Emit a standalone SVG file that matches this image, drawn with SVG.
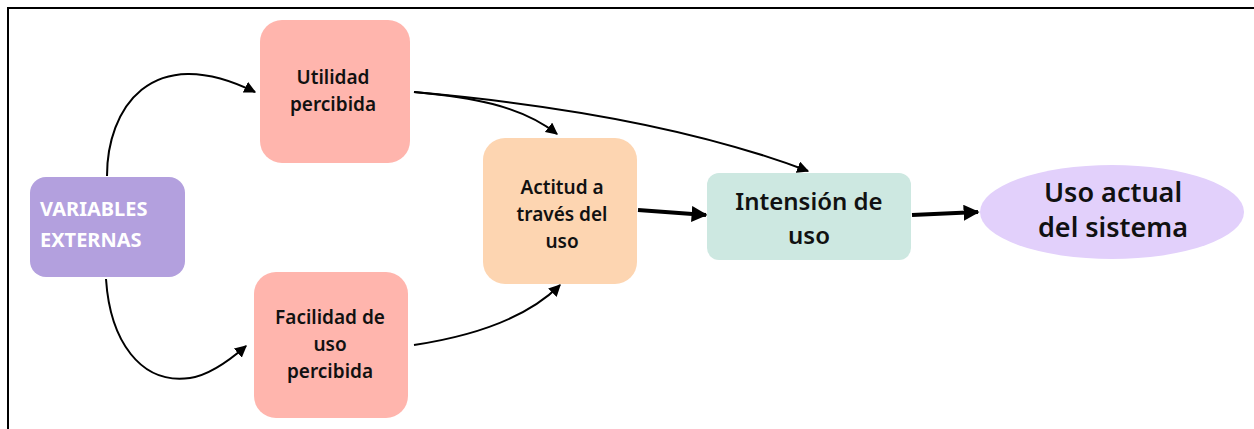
<svg xmlns="http://www.w3.org/2000/svg" width="1254" height="429" viewBox="0 0 1254 429">
<defs>
<marker id="ah" viewBox="0 0 10 10" refX="9" refY="5" markerWidth="6" markerHeight="6" orient="auto" markerUnits="strokeWidth">
<path d="M0,0 L10,5 L0,10 z" fill="#000"/>
</marker>
<marker id="ahb" viewBox="0 0 10 10" refX="9" refY="5" markerWidth="4" markerHeight="4" orient="auto" markerUnits="strokeWidth">
<path d="M0,0 L10,5 L0,10 z" fill="#000"/>
</marker>
</defs>
<style>
.t{font-family:"Noto Sans","Liberation Sans",sans-serif;fill:#111;text-anchor:middle;font-weight:600}
.s{font-size:19px}
.m{font-size:24px}
.l{font-size:27px}
.w{font-family:"Noto Sans","Liberation Sans",sans-serif;fill:#fff;font-weight:bold;font-size:20px}
.c{fill:none;stroke:#000;stroke-width:2}
.cb{fill:none;stroke:#000;stroke-width:4}
</style>
<rect width="1254" height="429" fill="#fff"/>
<path d="M8,429 L8,8 L1254,8" fill="none" stroke="#000" stroke-width="2"/>
<g id="connectors">
<path class="c" d="M107,176 C107,110 150,40 255,92" marker-end="url(#ah)"/>
<path class="c" d="M106,279 C110,340 140,385 190,378 C210,375 230,360 246,346" marker-end="url(#ah)"/>
<path class="c" d="M414,92 C470,97 520,105 557,134" marker-end="url(#ah)"/>
<path class="c" d="M414,92 C560,105 700,130 808,171" marker-end="url(#ah)"/>
<path class="c" d="M414,345 C480,335 530,315 560,285" marker-end="url(#ah)"/>
<path class="cb" d="M638,210 L706,215" marker-end="url(#ahb)"/>
<path class="cb" d="M912,215 L978,212" marker-end="url(#ahb)"/>
</g>
<g id="n-variables">
<rect x="30" y="177" width="155" height="100" rx="16" fill="#B3A0DE"/>
<text class="w" x="40" y="216">VARIABLES</text>
<text class="w" x="40" y="247">EXTERNAS</text>
</g>
<g id="n-utilidad">
<rect x="260" y="20" width="150" height="143" rx="22" fill="#FFB5AD"/>
<text class="t s" x="333" y="84">Utilidad</text>
<text class="t s" x="333" y="111">percibida</text>
</g>
<g id="n-facilidad">
<rect x="254" y="272" width="154" height="146" rx="22" fill="#FFB5AD"/>
<text class="t s" x="330" y="324">Facilidad de</text>
<text class="t s" x="330" y="351">uso</text>
<text class="t s" x="330" y="378">percibida</text>
</g>
<g id="n-actitud">
<rect x="483" y="138" width="154" height="146" rx="22" fill="#FDD5B1"/>
<text class="t s" x="562" y="194">Actitud a</text>
<text class="t s" x="562" y="221">través del</text>
<text class="t s" x="562" y="248">uso</text>
</g>
<g id="n-intension">
<rect x="707" y="173" width="204" height="87" rx="12" fill="#CDE8E1"/>
<text class="t m" x="809" y="210">Intensión de</text>
<text class="t m" x="809" y="244">uso</text>
</g>
<g id="n-uso">
<ellipse cx="1112" cy="212" rx="132" ry="47" fill="#E2D0FB"/>
<text class="t l" x="1113" y="202">Uso actual</text>
<text class="t l" x="1113" y="237">del sistema</text>
</g>
</svg>
